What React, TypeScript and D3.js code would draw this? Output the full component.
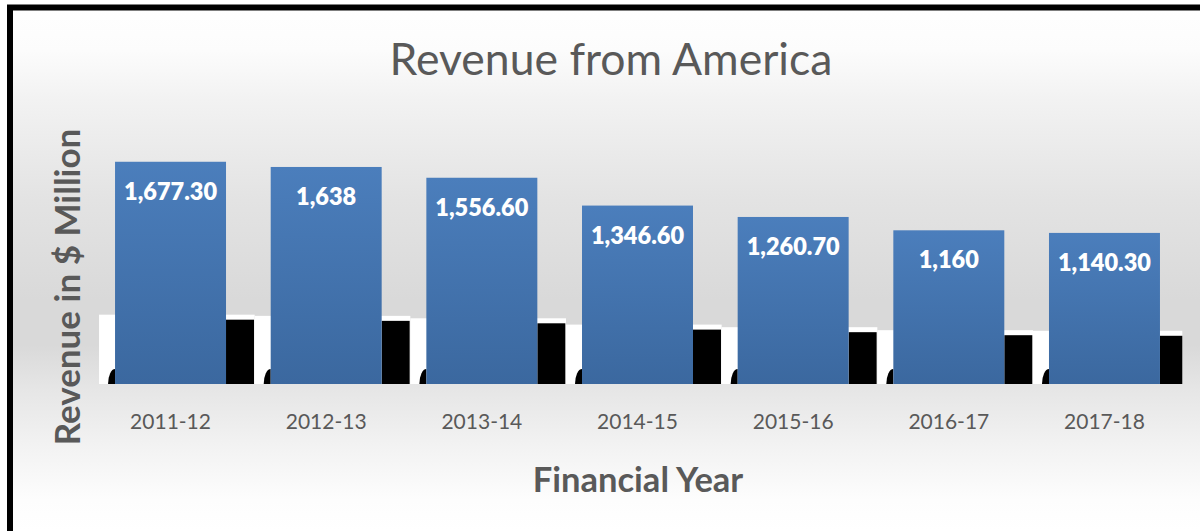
import { useEffect, useRef } from 'react';
import * as d3 from 'd3';

const W = 1200;
const H = 531;

const years = ['2011-12', '2012-13', '2013-14', '2014-15', '2015-16', '2016-17', '2017-18'];
const revenue = [1677.3, 1638, 1556.6, 1346.6, 1260.7, 1160, 1140.3];
const valueLabels = ['1,677.30', '1,638', '1,556.60', '1,346.60', '1,260.70', '1,160', '1,140.30'];

const TEXT = '#595959';
const FONT = 'Lato, "Open Sans", sans-serif';

export default function App() {
  const svgRef = useRef<SVGSVGElement>(null);

  useEffect(() => {
    if (!svgRef.current) return;
    const svg = d3.select(svgRef.current);
    svg.selectAll('*').remove();

    // ── Gradients ──────────────────────────────────────────────────────────
    const defs = svg.append('defs');
    const bg = defs.append('linearGradient')
      .attr('id', 'bg').attr('gradientUnits', 'userSpaceOnUse')
      .attr('x1', 0).attr('x2', 0).attr('y1', 0).attr('y2', H);
    ([
      [0, '#ffffff'], [50, '#fcfcfc'], [100, '#f2f2f2'], [200, '#e3e3e3'],
      [300, '#d9d9d9'], [345, '#d9d9d9'], [390, '#e6e6e6'], [440, '#f1f1f1'],
      [500, '#fdfdfd'], [531, '#ffffff'],
    ] as [number, string][]).forEach(([y, c]) =>
      bg.append('stop').attr('offset', `${(y / H) * 100}%`).attr('stop-color', c));

    const bar = defs.append('linearGradient')
      .attr('id', 'bar').attr('x1', 0).attr('x2', 0).attr('y1', 0).attr('y2', 1);
    bar.append('stop').attr('offset', '0%').attr('stop-color', '#4b7ebc');
    bar.append('stop').attr('offset', '100%').attr('stop-color', '#3b689f');

    // ── Frame ──────────────────────────────────────────────────────────────
    svg.append('rect')
      .attr('x', 10).attr('y', 7.5).attr('width', W + 20).attr('height', H + 20)
      .attr('fill', 'url(#bg)').attr('stroke', '#000').attr('stroke-width', 6);

    // ── Scales ─────────────────────────────────────────────────────────────
    const x = d3.scaleBand<string>()
      .domain(years)
      .range([92.7, 1182.3])
      .paddingInner(0.287)
      .paddingOuter(0.1435);
    const y = d3.scaleLinear().domain([0, 2000]).range([384, 119]);
    // squashed "reflection" behind each bar
    const ys = d3.scaleLinear().domain([0, 2000]).range([370, 310]);

    const bw = x.bandwidth();
    const step = x.step();
    const right = x.range()[1];
    const base = y(0);

    const g = svg.append('g');

    // white slabs
    years.forEach((yr, i) => {
      const x0 = x(yr)! - 16;
      const x1 = Math.min(x0 + step, right);
      const top = ys(revenue[i]) - 5;
      g.append('rect')
        .attr('x', x0).attr('y', top).attr('width', x1 - x0).attr('height', base - top)
        .attr('fill', '#ffffff');
    });

    // black blocks + corner blobs
    years.forEach((yr, i) => {
      const bx = x(yr)!;
      const x0 = bx + bw;
      const x1 = Math.min(x0 + 28, right);
      const top = ys(revenue[i]);
      g.append('rect')
        .attr('x', x0).attr('y', top).attr('width', x1 - x0).attr('height', base - top)
        .attr('fill', '#000');
      g.append('path')
        .attr('d', `M${bx},${base} L${bx - 7},${base} A7,15 0 0 1 ${bx},${base - 15} Z`)
        .attr('fill', '#000');
    });

    // bars
    g.selectAll('rect.bar')
      .data(revenue)
      .join('rect')
      .attr('class', 'bar')
      .attr('x', (_, i) => x(years[i])!)
      .attr('y', d => y(d))
      .attr('width', bw)
      .attr('height', d => base - y(d))
      .attr('fill', 'url(#bar)');

    // data labels
    g.selectAll('text.val')
      .data(revenue)
      .join('text')
      .attr('class', 'val')
      .attr('x', (_, i) => x(years[i])! + bw / 2)
      .attr('y', d => y(d) + 38)
      .attr('text-anchor', 'middle')
      .attr('fill', '#fff').attr('font-weight', 800)
      .attr('font-size', 23.5).attr('font-family', FONT)
      .text((_, i) => valueLabels[i]);

    // category axis
    svg.append('g')
      .attr('transform', `translate(0,${base})`)
      .call(d3.axisBottom(x).tickSize(0).tickPadding(0))
      .call(a => a.select('.domain').remove())
      .call(a => a.selectAll('.tick text')
        .attr('dy', 45)
        .attr('fill', TEXT).attr('font-size', 21).attr('font-family', FONT));

    // titles
    svg.append('text')
      .attr('x', 611).attr('y', 75)
      .attr('text-anchor', 'middle')
      .attr('fill', TEXT).attr('font-size', 44.5).attr('font-family', FONT)
      .text('Revenue from America');

    svg.append('text')
      .attr('x', 638).attr('y', 492)
      .attr('text-anchor', 'middle')
      .attr('fill', TEXT).attr('font-weight', 700)
      .attr('font-size', 34.5).attr('font-family', FONT)
      .text('Financial Year');

    svg.append('text')
      .attr('transform', 'translate(80,287) rotate(-90)')
      .attr('text-anchor', 'middle')
      .attr('fill', TEXT).attr('font-weight', 700)
      .attr('font-size', 35).attr('font-family', FONT)
      .text('Revenue in $ Million');
  }, []);

  return (
    <svg ref={svgRef} width={W} height={H}
      style={{ position: 'absolute', left: 0, top: 0, display: 'block' }} />
  );
}
